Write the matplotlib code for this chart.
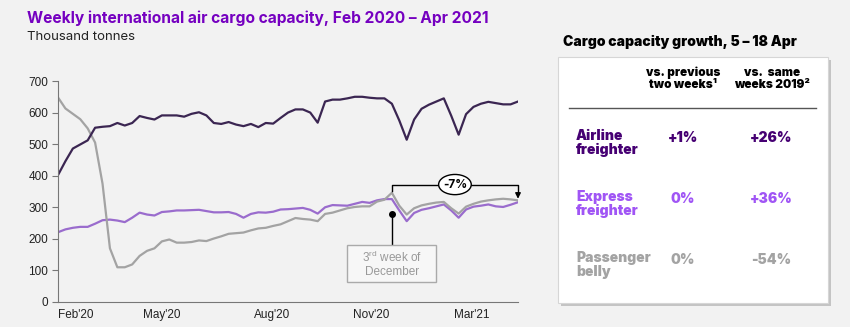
import numpy as np, matplotlib; matplotlib.use("Agg")
import matplotlib.pyplot as plt
from matplotlib.patches import Rectangle, Ellipse

# weekly capacity, thousand tonnes (Feb 2020 - Apr 2021)
airline = [402,446,486,499,512,552,555,557,567,559,567,589,583,578,591,591,591,587,596,601,
           591,567,564,570,562,557,564,554,567,565,583,600,610,610,600,568,635,641,641,645,
           650,650,647,645,645,628,575,514,578,612,625,635,645,590,530,595,618,628,634,630,
           626,626,635]
express = [221,230,235,238,238,248,259,261,258,253,267,283,277,274,285,287,290,290,291,292,
           288,284,284,285,279,267,279,284,283,286,293,294,296,298,292,280,300,307,306,305,
           311,317,314,322,326,326,290,256,282,292,297,303,309,290,267,293,302,305,309,303,
           301,308,316]
belly = [648,613,596,579,550,505,375,170,110,110,119,146,162,170,192,198,188,188,190,195,
         193,201,208,216,218,220,227,233,235,241,246,256,266,263,261,256,279,283,290,297,
         301,303,303,318,324,346,305,277,297,306,311,315,317,297,280,302,311,318,322,325,
         327,325,322]
tick_pos = [2.4, 14, 28.8, 42.2, 55.7]
tick_lab = ["Feb'20", "May'20", "Aug'20", "Nov'20", "Mar'21"]

# table on the right
rows = ["Airline\nfreighter", "Express\nfreighter", "Passenger\nbelly"]
vs_prev = ["+1%", "0%", "0%"]
vs_2019 = ["+26%", "+36%", "-54%"]

BG = '#f2f2f2'; C_AIR = '#3b2652'; C_EXP = '#9a6ccd'; C_PAS = '#a3a3a3'; PURP = '#7500c0'
ROWC = ['#460073', '#a055f5', '#a3a3a3']
plt.rcParams['mathtext.fontset'] = 'custom'
plt.rcParams['mathtext.rm'] = 'Liberation Sans'
TF = 'Liberation Sans'; HF = 'Inter'

fig = plt.figure(figsize=(8.5, 3.27), dpi=100, facecolor=BG)
ax = fig.add_axes([58/850, 25/327, 460/850, 221/327])
ax.set_facecolor(BG)
x = np.arange(len(airline))
ax.plot(x, express, color=C_EXP, lw=1.6)
ax.plot(x, belly, color=C_PAS, lw=1.6)
ax.plot(x, airline, color=C_AIR, lw=1.6)
ax.set_xlim(0, len(airline)-1); ax.set_ylim(0, 700)
ax.set_yticks(range(0, 701, 100))
ax.set_xticks(tick_pos); ax.set_xticklabels(tick_lab)
for lb in ax.get_xticklabels()+ax.get_yticklabels():
    lb.set_fontfamily(TF); lb.set_fontsize(8.5); lb.set_color('#222')
ax.tick_params(axis='x', length=0, pad=5)
ax.tick_params(axis='y', length=4, direction='out', pad=3, color='#777')
for s in ['top','right']: ax.spines[s].set_visible(False)
for s in ['left','bottom']: ax.spines[s].set_color('#777')

# annotations
pk = int(np.argmax(belly[30:]))+30
ax.plot([pk, pk], [280, 180], color='k', lw=1, clip_on=False)
ax.plot(pk, 280, 'o', color='k', ms=4, clip_on=False)
ax.add_patch(Rectangle((pk-6, 63), 12, 117, fc='#f7f7f7', ec='#aaa', lw=1, clip_on=False, zorder=3))
ax.text(pk, 121, "3$^{\\mathrm{rd}}$ week of\nDecember", ha='center', va='center', fontsize=8.5,
        family=TF, color='#999', zorder=4, linespacing=1.1)
end = len(belly)-1
ax.plot([pk, pk, end, end], [352, 372, 372, 345], color='k', lw=1, clip_on=False)
ax.annotate('', xy=(end, 327), xytext=(end, 346),
            arrowprops=dict(arrowstyle='-|>', color='k', lw=1, mutation_scale=8, shrinkA=0, shrinkB=0))
mid = (pk+end)/2
ax.add_patch(Ellipse((mid, 372), 4.4, 64, fc='white', ec='k', lw=1, clip_on=False, zorder=5))
chg = round((belly[end]/belly[pk]-1)*100)
ax.text(mid, 372, f"{chg}%", ha='center', va='center', fontsize=8.5, fontweight='bold', family=HF, zorder=6)

# overlay in pixel coords for titles and table
ov = fig.add_axes([0, 0, 1, 1], zorder=-1); ov.set_xlim(0, 850); ov.set_ylim(327, 0); ov.axis('off')
ov.text(27, 18, "Weekly international air cargo capacity, Feb 2020 – Apr 2021", fontsize=11.2, fontweight='bold',
        family=HF, color=PURP, va='center')
ov.text(27, 37, "Thousand tonnes", fontsize=9.5, family=HF, color='#222', va='center')
ov.text(563, 42, "Cargo capacity growth, 5 – 18 Apr", fontsize=10, fontweight='black', family=HF, color='k', va='center')
ov.add_patch(Rectangle((561, 60), 270, 246, fc='#c4c4c4', ec='none'))
ov.add_patch(Rectangle((558, 57), 270, 246, fc='white', ec='#d6d6d6', lw=0.8))
ov.text(683, 79, "vs. previous\ntwo weeks¹", ha='center', va='center', fontsize=8.5, fontweight='black', family=HF, linespacing=1.0)
ov.text(772, 79, "vs.  same\nweeks 2019²", ha='center', va='center', fontsize=8.5, fontweight='black', family=HF, linespacing=1.0)
ov.plot([569, 816], [108, 108], color='#555', lw=1)
for k, (r, a, b) in enumerate(zip(rows, vs_prev, vs_2019)):
    y = 143 + k*61
    ov.text(576, y, r, ha='left', va='center', fontsize=10, fontweight='black', family=HF, color=ROWC[k], linespacing=1.05)
    ov.text(683, y-5, a, ha='center', va='center', fontsize=10, fontweight='black', family=HF, color=ROWC[k])
    ov.text(771, y-5, b, ha='center', va='center', fontsize=10, fontweight='black', family=HF, color=ROWC[k])

fig.savefig("out.png", dpi=100, facecolor=BG)
